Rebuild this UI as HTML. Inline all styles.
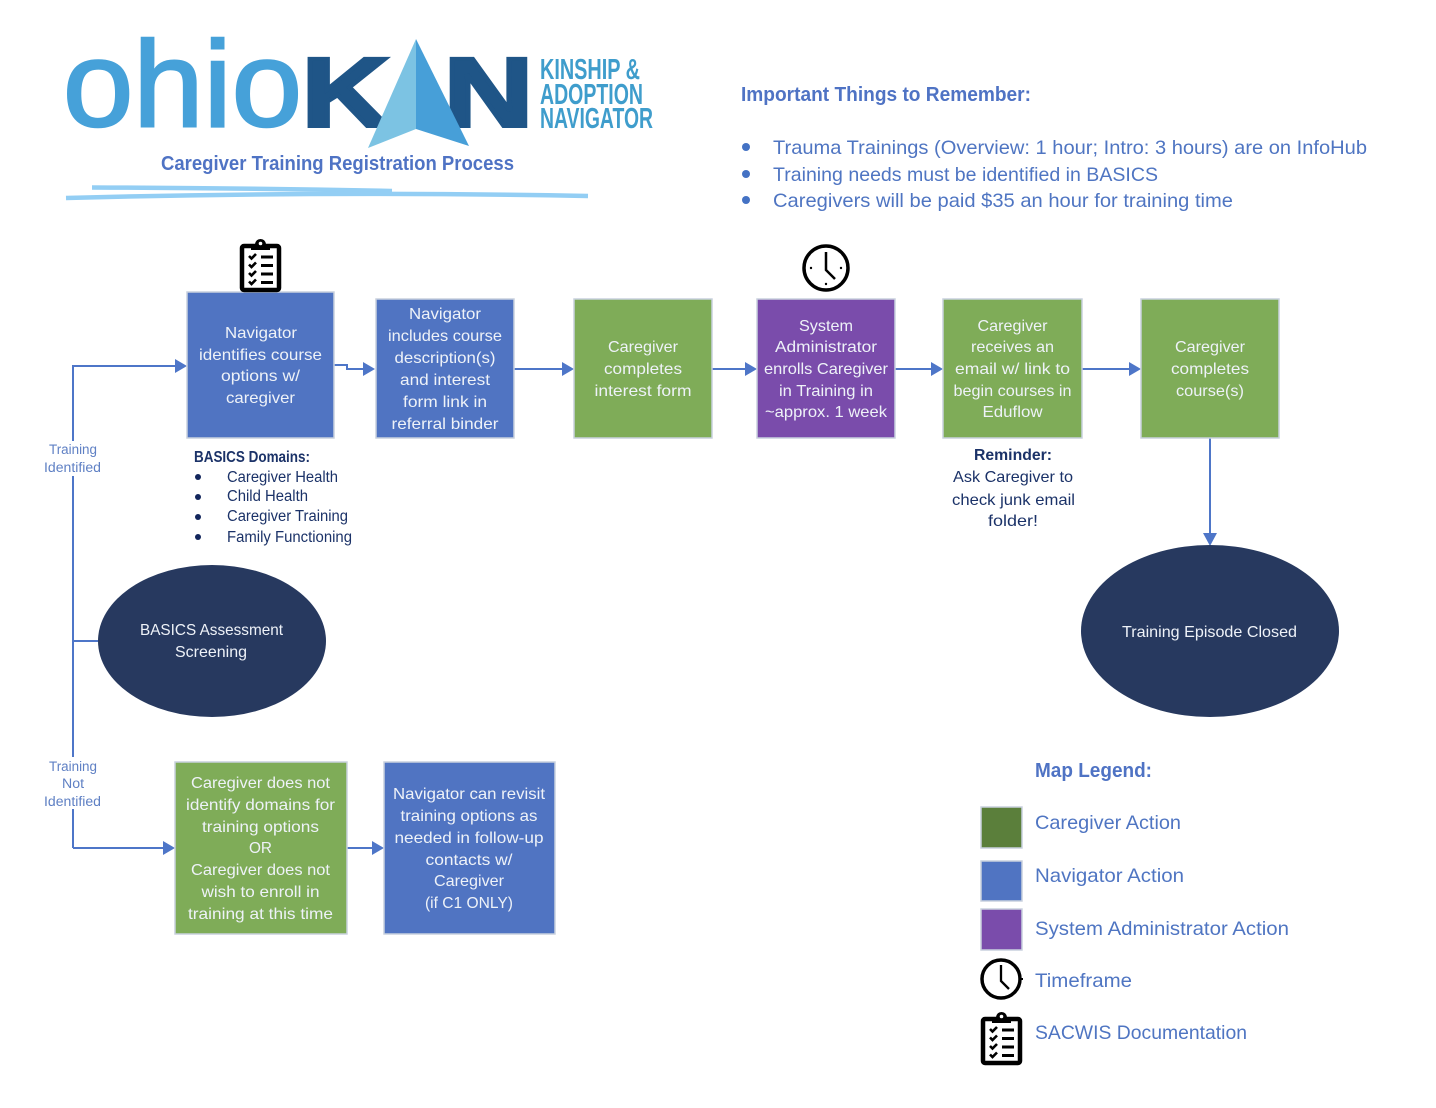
<!DOCTYPE html>
<html lang="en"><head><meta charset="utf-8"><title>Caregiver Training Registration Process</title>
<style>
html,body{margin:0;padding:0;background:#fff}
svg{display:block}
text{font-family:"Liberation Sans",sans-serif}
.w{fill:#eef2f8;font-size:16px;text-anchor:middle}
.d{fill:#1b3268;font-size:15.5px}
.dm{fill:#1b3268;font-size:16px;text-anchor:middle}
.l{fill:#4f75c2;font-size:19.5px}
.t{fill:#5f80c4;font-size:13.5px;text-anchor:middle}
.box{stroke:#c9d1de;stroke-width:1.5}
.c{stroke:#4e76c8;stroke-width:2;fill:none}
.a{fill:#4e76c8}
</style></head><body>
<svg width="1436" height="1108" viewBox="0 0 1436 1108" xmlns="http://www.w3.org/2000/svg">
<defs>
<g id="clip">
<rect x="2" y="5" width="37" height="44" rx="2" fill="#fff" stroke="#000" stroke-width="4.5"/>
<path d="M11 7 V3 H15 Q16 -2 20.5 -2 Q25 -2 26 3 H30 V9 H11 Z" fill="#000"/>
<circle cx="20.5" cy="2.5" r="1.8" fill="#fff"/>
<path d="M9 15l2.500 2.500 4.500-4.500M9 23.500l2.500 2.500 4.500-4.500M9 32l2.500 2.500 4.500-4.500M9 40.500l2.500 2.500 4.500-4.500" fill="none" stroke="#000" stroke-width="2.6"/>
<path d="M21 16h12M21 24.500h12M21 33h12M21 41.500h12" stroke="#000" stroke-width="3"/>
</g>
</defs>

<!-- logo -->
<text x="63" y="126" font-size="122" fill="#46a1d9" stroke="#46a1d9" stroke-width="2.5" textLength="239" lengthAdjust="spacingAndGlyphs">ohio</text>
<text x="302" y="126" font-size="97" font-weight="700" fill="#1f5587" stroke="#1f5587" stroke-width="4" textLength="87" lengthAdjust="spacingAndGlyphs">K</text>
<text x="444" y="126" font-size="97" font-weight="700" fill="#1f5587" stroke="#1f5587" stroke-width="4" textLength="89" lengthAdjust="spacingAndGlyphs">N</text>
<polygon points="416,39 368,148 416,129" fill="#7cc3e3"/>
<polygon points="416,39 469,146 416,129" fill="#479fd8"/>
<text x="540" y="79" font-size="29" font-weight="700" fill="#3f9dcc" textLength="100" lengthAdjust="spacingAndGlyphs">KINSHIP &amp;</text>
<text x="540" y="104" font-size="29" font-weight="700" fill="#3f9dcc" textLength="103" lengthAdjust="spacingAndGlyphs">ADOPTION</text>
<text x="540" y="128" font-size="29" font-weight="700" fill="#3f9dcc" textLength="113" lengthAdjust="spacingAndGlyphs">NAVIGATOR</text>
<text x="161" y="170" font-size="20" font-weight="700" fill="#4f73c4" textLength="353" lengthAdjust="spacingAndGlyphs">Caregiver Training Registration Process</text>
<path d="M92 187.500 Q240 188 392 191" stroke="#93cef4" stroke-width="4.5" fill="none"/>
<path d="M66 198 Q320 191 588 196" stroke="#93cef4" stroke-width="4.5" fill="none"/>

<!-- important -->
<text x="741" y="101" font-size="20" font-weight="700" fill="#4f73c4" textLength="290" lengthAdjust="spacingAndGlyphs">Important Things to Remember:</text>
<circle cx="746" cy="147" r="4" fill="#4472c4"/><circle cx="746" cy="174" r="4" fill="#4472c4"/><circle cx="746" cy="200" r="4" fill="#4472c4"/>
<text class="l" x="773" y="154" textLength="594" lengthAdjust="spacingAndGlyphs">Trauma Trainings (Overview: 1 hour; Intro: 3 hours) are on InfoHub</text>
<text class="l" x="773" y="181" textLength="385" lengthAdjust="spacingAndGlyphs">Training needs must be identified in BASICS</text>
<text class="l" x="773" y="207" textLength="460" lengthAdjust="spacingAndGlyphs">Caregivers will be paid $35 an hour for training time</text>

<!-- connectors -->
<path class="c" d="M73 848 V366 H177"/><polygon class="a" points="175,359 187,366 175,373"/>
<path class="c" d="M73 641 H98"/>
<path class="c" d="M73 848 H165"/><polygon class="a" points="163,841 175,848 163,855"/>
<path class="c" d="M334 365 H347 V369 H365"/><polygon class="a" points="363,362 375,369 363,376"/>
<path class="c" d="M514 369 H564"/><polygon class="a" points="562,362 574,369 562,376"/>
<path class="c" d="M712 369 H747"/><polygon class="a" points="745,362 757,369 745,376"/>
<path class="c" d="M895 369 H933"/><polygon class="a" points="931,362 943,369 931,376"/>
<path class="c" d="M1082 369 H1131"/><polygon class="a" points="1129,362 1141,369 1129,376"/>
<path class="c" d="M347 848 H374"/><polygon class="a" points="372,841 384,848 372,855"/>
<path class="c" d="M1210 438 V536"/><polygon class="a" points="1203,533 1210,546 1217,533"/>
<rect x="42" y="441" width="62" height="35" fill="#fff"/>
<rect x="42" y="757" width="62" height="52" fill="#fff"/>
<text class="t" x="73" y="454" textLength="48" lengthAdjust="spacingAndGlyphs">Training</text>
<text class="t" x="72.500" y="472" textLength="57" lengthAdjust="spacingAndGlyphs">Identified</text>
<text class="t" x="73" y="771" textLength="48" lengthAdjust="spacingAndGlyphs">Training</text>
<text class="t" x="73" y="788" textLength="22" lengthAdjust="spacingAndGlyphs">Not</text>
<text class="t" x="72.500" y="806" textLength="57" lengthAdjust="spacingAndGlyphs">Identified</text>

<!-- boxes -->
<rect class="box" x="187" y="292" width="147" height="146" fill="#5074c2"/>
<rect class="box" x="376" y="299" width="138" height="139" fill="#5074c2"/>
<rect class="box" x="574" y="299" width="138" height="139" fill="#7fac58"/>
<rect class="box" x="757" y="299" width="138" height="139" fill="#7a4cab"/>
<rect class="box" x="943" y="299" width="139" height="139" fill="#7fac58"/>
<rect class="box" x="1141" y="299" width="138" height="139" fill="#7fac58"/>
<rect class="box" x="175" y="762" width="172" height="172" fill="#7fac58"/>
<rect class="box" x="384" y="762" width="171" height="172" fill="#5074c2"/>
<ellipse cx="212" cy="641" rx="114" ry="76" fill="#27395f"/>
<ellipse cx="1210" cy="631" rx="129" ry="86" fill="#27395f"/>

<!-- box text -->
<text class="w" x="261" y="338" textLength="72" lengthAdjust="spacingAndGlyphs">Navigator</text>
<text class="w" x="260.500" y="360" textLength="123" lengthAdjust="spacingAndGlyphs">identifies course</text>
<text class="w" x="260.500" y="381" textLength="79" lengthAdjust="spacingAndGlyphs">options w/</text>
<text class="w" x="260.500" y="403" textLength="69" lengthAdjust="spacingAndGlyphs">caregiver</text>

<text class="w" x="445" y="319" textLength="72" lengthAdjust="spacingAndGlyphs">Navigator</text>
<text class="w" x="445" y="341" textLength="114" lengthAdjust="spacingAndGlyphs">includes course</text>
<text class="w" x="445" y="363" textLength="101" lengthAdjust="spacingAndGlyphs">description(s)</text>
<text class="w" x="445" y="385" textLength="90" lengthAdjust="spacingAndGlyphs">and interest</text>
<text class="w" x="445" y="407" textLength="84" lengthAdjust="spacingAndGlyphs">form link in</text>
<text class="w" x="445" y="429" textLength="107" lengthAdjust="spacingAndGlyphs">referral binder</text>

<text class="w" x="643" y="352" textLength="70" lengthAdjust="spacingAndGlyphs">Caregiver</text>
<text class="w" x="643" y="374" textLength="78" lengthAdjust="spacingAndGlyphs">completes</text>
<text class="w" x="643" y="396" textLength="97" lengthAdjust="spacingAndGlyphs">interest form</text>

<text class="w" x="826" y="331" textLength="54" lengthAdjust="spacingAndGlyphs">System</text>
<text class="w" x="826" y="352" textLength="102" lengthAdjust="spacingAndGlyphs">Administrator</text>
<text class="w" x="826" y="374" textLength="124" lengthAdjust="spacingAndGlyphs">enrolls Caregiver</text>
<text class="w" x="826" y="396" textLength="94" lengthAdjust="spacingAndGlyphs">in Training in</text>
<text class="w" x="826" y="417" textLength="122" lengthAdjust="spacingAndGlyphs">~approx. 1 week</text>

<text class="w" x="1012.500" y="331" textLength="70" lengthAdjust="spacingAndGlyphs">Caregiver</text>
<text class="w" x="1012.500" y="352" textLength="83" lengthAdjust="spacingAndGlyphs">receives an</text>
<text class="w" x="1012.500" y="374" textLength="115" lengthAdjust="spacingAndGlyphs">email w/ link to</text>
<text class="w" x="1012.500" y="396" textLength="118" lengthAdjust="spacingAndGlyphs">begin courses in</text>
<text class="w" x="1012.500" y="417" textLength="60" lengthAdjust="spacingAndGlyphs">Eduflow</text>

<text class="w" x="1210" y="352" textLength="70" lengthAdjust="spacingAndGlyphs">Caregiver</text>
<text class="w" x="1210" y="374" textLength="78" lengthAdjust="spacingAndGlyphs">completes</text>
<text class="w" x="1210" y="396" textLength="68" lengthAdjust="spacingAndGlyphs">course(s)</text>

<text class="w" x="211.500" y="635" textLength="143" lengthAdjust="spacingAndGlyphs">BASICS Assessment</text>
<text class="w" x="211" y="657" textLength="72" lengthAdjust="spacingAndGlyphs">Screening</text>
<text class="w" x="1209.500" y="637" textLength="175" lengthAdjust="spacingAndGlyphs">Training Episode Closed</text>

<text class="w" x="260.500" y="788" textLength="139" lengthAdjust="spacingAndGlyphs">Caregiver does not</text>
<text class="w" x="260.500" y="810" textLength="149" lengthAdjust="spacingAndGlyphs">identify domains for</text>
<text class="w" x="260.500" y="832" textLength="117" lengthAdjust="spacingAndGlyphs">training options</text>
<text class="w" x="260.500" y="853" textLength="23" lengthAdjust="spacingAndGlyphs">OR</text>
<text class="w" x="260.500" y="875" textLength="139" lengthAdjust="spacingAndGlyphs">Caregiver does not</text>
<text class="w" x="260.500" y="897" textLength="118" lengthAdjust="spacingAndGlyphs">wish to enroll in</text>
<text class="w" x="260.500" y="919" textLength="145" lengthAdjust="spacingAndGlyphs">training at this time</text>

<text class="w" x="469" y="799" textLength="152" lengthAdjust="spacingAndGlyphs">Navigator can revisit</text>
<text class="w" x="469" y="821" textLength="137" lengthAdjust="spacingAndGlyphs">training options as</text>
<text class="w" x="469" y="843" textLength="149" lengthAdjust="spacingAndGlyphs">needed in follow-up</text>
<text class="w" x="469" y="865" textLength="87" lengthAdjust="spacingAndGlyphs">contacts w/</text>
<text class="w" x="469" y="886" textLength="70" lengthAdjust="spacingAndGlyphs">Caregiver</text>
<text class="w" x="469" y="908" textLength="88" lengthAdjust="spacingAndGlyphs">(if C1 ONLY)</text>

<!-- BASICS -->
<text class="d" x="194" y="462" font-weight="700" textLength="116" lengthAdjust="spacingAndGlyphs">BASICS Domains:</text>
<circle cx="198" cy="477" r="3" fill="#12265c"/><circle cx="198" cy="497" r="3" fill="#12265c"/><circle cx="198" cy="517" r="3" fill="#12265c"/><circle cx="198" cy="537" r="3" fill="#12265c"/>
<text class="d" x="227" y="482" textLength="111" lengthAdjust="spacingAndGlyphs">Caregiver Health</text>
<text class="d" x="227" y="501" textLength="81" lengthAdjust="spacingAndGlyphs">Child Health</text>
<text class="d" x="227" y="521" textLength="121" lengthAdjust="spacingAndGlyphs">Caregiver Training</text>
<text class="d" x="227" y="542" textLength="125" lengthAdjust="spacingAndGlyphs">Family Functioning</text>

<!-- reminder -->
<text class="dm" x="1013" y="460" font-weight="700" textLength="78" lengthAdjust="spacingAndGlyphs">Reminder:</text>
<text class="dm" x="1013" y="482" textLength="120" lengthAdjust="spacingAndGlyphs">Ask Caregiver to</text>
<text class="dm" x="1013.500" y="505" textLength="123" lengthAdjust="spacingAndGlyphs">check junk email</text>
<text class="dm" x="1013" y="526" textLength="50" lengthAdjust="spacingAndGlyphs">folder!</text>

<!-- icons -->
<use href="#clip" x="240" y="241"/>
<g>
<circle cx="826" cy="268" r="22" fill="#fff" stroke="#000" stroke-width="3.5"/>
<path d="M826 252 V270 L835 279" fill="none" stroke="#000" stroke-width="2.5"/>
<circle cx="811" cy="268" r="1.200"/><circle cx="841" cy="268" r="1.200"/><circle cx="826" cy="284" r="1.200"/>
</g>

<!-- legend -->
<text x="1035" y="777" font-size="20" font-weight="700" fill="#4f73c4" textLength="117" lengthAdjust="spacingAndGlyphs">Map Legend:</text>
<rect class="box" x="981" y="807" width="41" height="41" fill="#5b7f3b"/>
<rect class="box" x="981" y="861" width="41" height="40" fill="#5074c2"/>
<rect class="box" x="981" y="909" width="41" height="41" fill="#7a4cab"/>
<circle cx="1001" cy="979" r="19" fill="#fff" stroke="#000" stroke-width="3.5"/>
<path d="M1001 965 V981 L1009 989" fill="none" stroke="#000" stroke-width="2.3"/>
<path d="M1020 979 h3" stroke="#000" stroke-width="2"/>
<use href="#clip" x="981" y="1014"/>
<text class="l" x="1035" y="829" textLength="146" lengthAdjust="spacingAndGlyphs">Caregiver Action</text>
<text class="l" x="1035" y="882" textLength="149" lengthAdjust="spacingAndGlyphs">Navigator Action</text>
<text class="l" x="1035" y="935" textLength="254" lengthAdjust="spacingAndGlyphs">System Administrator Action</text>
<text class="l" x="1035" y="987" textLength="97" lengthAdjust="spacingAndGlyphs">Timeframe</text>
<text class="l" x="1035" y="1039" textLength="212" lengthAdjust="spacingAndGlyphs">SACWIS Documentation</text>
</svg>
</body></html>
